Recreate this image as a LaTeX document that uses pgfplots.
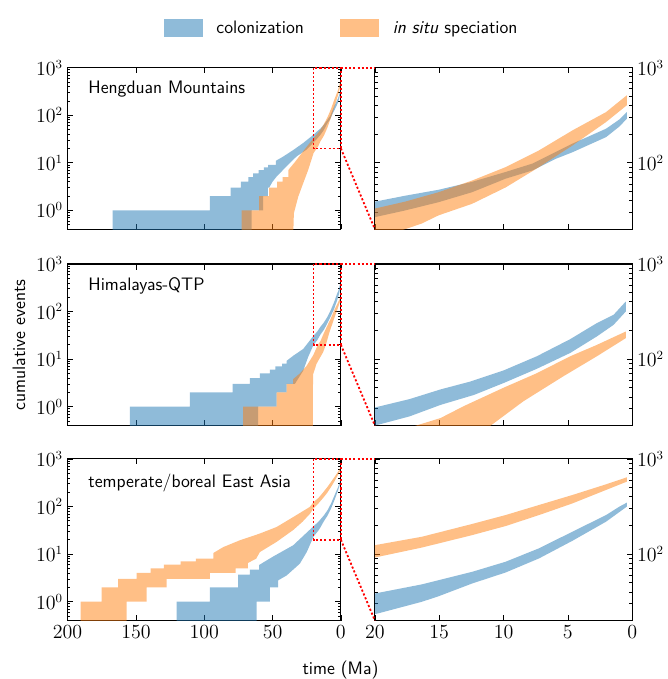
\documentclass[border=0pt]{standalone}
\usepackage{pgfplots}
\usepackage{pgfplotstable}
\pgfplotsset{compat=1.18}
\definecolor{tabblue}{RGB}{31,119,180}
\definecolor{taborange}{RGB}{255,127,14}

% each band is a closed outline: upper edge old->young, then lower edge young->old
\pgfplotstableread{
x y
167 0.1
167 1
95.9 1
95.9 2
80.7 2
80.7 3
73.2 3
73.2 4
67.8 4
67.8 5
64.2 5
64.2 6
60.2 6
60.2 7
56.3 7
56.3 8
53.2 8
53.2 9
47.6 9
47.6 11
42.2 13.5
34.9 18.5
27.6 26
20 39
17.66 45
15.05 52
12.45 63
9.84 80
7.76 98
5.94 130
4.64 159
2.03 228
1.0 285
0.42 341
0.42 290
1.0 240
2.03 186
4.64 129
5.94 110
7.76 83
9.84 68
12.45 49
15.05 38.5
17.66 31.5
20 26.8
25 19
32.4 13.6
39.8 8.4
47.1 5.1
50 4
52.5 3
53.5 3
53.5 2
57 2
57 1
65.4 1
65.4 0.1
}\HengBlue

\pgfplotstableread{
x y
72.7 0.1
72.7 1
59.8 1
59.8 2
52.5 2
52.5 3
46.6 3
46.6 4
42.7 4
42.7 5
38.5 5
38.5 7
33.7 10.3
27.6 17.4
20 33
17.66 39
15.05 49
12.45 65
9.84 90
7.24 135
4.64 219
2.03 341
0.42 512
0.42 402
2.03 268
4.64 152
7.24 90
9.84 55
12.45 37
15.05 28
16.35 23
17.66 20
20 16
23.9 7.1
27.6 3.7
31.2 1.94
34.4 0.87
35.4 0.1
}\HengOrange

\pgfplotstableread{
x y
154.4 0.1
154.4 1
110.5 1
110.5 2
79.3 2
79.3 3
66.6 3
66.6 4
59.3 4
59.3 5
52 5
52 6
48 6
48 7
43 7
43 8
39.7 8
39.7 9.2
34.8 11.8
27.6 16.3
20 31
17.3 38
14.9 48
12.6 58
10 76
7.42 107
4.82 162
2.75 239
1.45 292
0.5 403
0.5 316
1.45 229
2.75 173
4.82 116
7.42 79
10 56
12.3 42
14.9 33
17.3 25
20 20
24 11
27.6 5.7
33.7 3
39.7 3
39.7 2
47.1 2
47.1 1
60.5 1
60.5 0.1
}\QTPBlue

\pgfplotstableread{
x y
71.5 0.1
71.5 1
47.1 1
47.1 2
39.7 2
39.7 3
34.9 3
34.9 3.8
30 5
25.1 7.2
20.3 12
16.8 20
14.9 24
13.1 32
10 50
7.42 71
4.82 107
2.75 141
0.5 195
0.5 166
2.75 107
5.35 66
8.46 36
11 20
13 14
17.8 8
20.3 4.8
20.5 2
20.6 0.1
}\QTPOrange

\pgfplotstableread{
x y
120.2 0.1
120.2 1
95.9 1
95.9 2
75.2 2
75.2 3.7
66.6 3.7
66.6 4.7
59.8 4.7
59.8 5.9
49.5 8.9
34.9 15.3
20 38.5
16.35 48
12.45 65
9.84 83
7.24 115
4.64 172
2.03 257
1.0 315
0.42 347
0.42 315
2.03 219
4.64 138
7.24 90
9.84 64
12.45 49
15.05 36
16.35 31.5
20 23.3
25 11
30 6.3
39.7 3.55
45.9 2.8
45.9 2
52 2
52 1
61.7 1
61.7 0.1
}\EABlue

\pgfplotstableread{
x y
190.5 0.1
190.5 1
175.1 1
175.1 2
163 2
163 3
149.5 3
149.5 4
139.3 4
139.3 5
129.5 5
129.5 6
117.3 6
117.3 7
106.1 7
106.1 8
93.4 8
93.4 10.5
86.1 14
73.9 19.5
59.3 27
47.1 37
34.9 60
22.7 98
20 124
16.35 152
12.45 207
9.84 257
7.24 328
4.64 418
2.03 541
0.42 641
0.42 577
2.03 472
4.64 341
7.24 257
9.84 197
12.45 158
16.35 117
20 92
22.7 70
28 48
34.9 32
47.1 18
59.3 11
62 8
68 6.5
68 5
77 5
77 4
95.9 4
95.9 3
127.5 3
127.5 2
142.2 2
142.2 1
156.8 1
156.8 0.1
}\EAOrange

\newcommand{\lab}{\sffamily\fontsize{13}{15}\selectfont}
\pgfplotsset{
  mypanel/.style={scale only axis, height=116.4pt, x dir=reverse,
    tick align=inside, major tick length=4pt, minor tick length=2pt,
    every tick/.style={black, line width=0.5pt},
    axis line style={line width=0.8pt},
    tick label style={font=\fontsize{13.5}{15}\selectfont},
    anchor=north west},
  myleft/.style={mypanel, width=196.8pt, xmin=0, xmax=200, ymin=0.4, ymax=1000,
    xtick={0,50,100,150,200}, ytick={1,10,100,1000},
    minor ytick={0.4,0.5,0.6,0.7,0.8,0.9,2,3,4,5,6,7,8,9,20,30,40,50,60,70,80,90,200,300,400,500,600,700,800,900}},
  myright/.style={mypanel, width=185.3pt, xmin=0, xmax=20, ymin=20, ymax=1000,
    xtick={0,5,10,15,20}, ytick={100,1000}, yticklabel pos=right,
    minor ytick={20,30,40,50,60,70,80,90,200,300,400,500,600,700,800,900}},
}
\tikzset{
  bandblue/.style={fill=tabblue, fill opacity=0.5, draw=none},
  bandorange/.style={fill=taborange, fill opacity=0.5, draw=none},
  reddot/.style={color=red, line width=1.3pt, dash pattern=on 1.5pt off 1.5pt},
}

\begin{document}
\begin{tikzpicture}
\useasboundingbox (0pt,0pt) rectangle (481pt,-489pt);

% ---- row 1: Hengduan Mountains
\begin{semilogyaxis}[myleft, at={(48.7pt,-48.7pt)}, xticklabels={},
  legend columns=2,
  legend style={draw=none, fill=none, at={(1.004,1.244)}, anchor=center,
    font=\lab,
    /tikz/every odd column/.append style={column sep=8pt},
    /tikz/every even column/.append style={column sep=24pt}},
  legend image code/.code={\fill[#1] (0pt,-6.5pt) rectangle (28pt,6.5pt);}]
\addlegendimage{bandblue}
\addlegendentry{colonization}
\addlegendimage{bandorange}
\addlegendentry{\textit{in situ} speciation}
\addplot[bandblue, forget plot] table {\HengBlue} -- cycle;
\addplot[bandorange, forget plot] table {\HengOrange} -- cycle;
\node[anchor=west, font=\lab] at (rel axis cs:0.058,0.865) {Hengduan Mountains};
\coordinate (a1) at (axis cs:20,20);
\coordinate (d1) at (axis cs:20,1000);
\coordinate (b1) at (axis cs:0,1000);
\coordinate (c1) at (axis cs:0,20);
\end{semilogyaxis}
\begin{semilogyaxis}[myright, at={(270pt,-48.7pt)}, xticklabels={}, name=R1]
\addplot[bandblue] table {\HengBlue} -- cycle;
\addplot[bandorange] table {\HengOrange} -- cycle;
\end{semilogyaxis}
\draw[reddot] (d1) -- (a1) -- (c1) -- (b1) -- (d1);
\draw[reddot] (b1) -- (R1.north west);
\draw[reddot] (c1) -- (R1.south west);

% ---- row 2: Himalayas-QTP
\begin{semilogyaxis}[myleft, at={(48.7pt,-190.1pt)}, xticklabels={}]
\addplot[bandblue] table {\QTPBlue} -- cycle;
\addplot[bandorange] table {\QTPOrange} -- cycle;
\node[anchor=west, font=\lab] at (rel axis cs:0.058,0.865) {Himalayas-QTP};
\coordinate (a2) at (axis cs:20,20);
\coordinate (d2) at (axis cs:20,1000);
\coordinate (b2) at (axis cs:0,1000);
\coordinate (c2) at (axis cs:0,20);
\end{semilogyaxis}
\begin{semilogyaxis}[myright, at={(270pt,-190.1pt)}, xticklabels={}, name=R2]
\addplot[bandblue] table {\QTPBlue} -- cycle;
\addplot[bandorange] table {\QTPOrange} -- cycle;
\end{semilogyaxis}
\draw[reddot] (d2) -- (a2) -- (c2) -- (b2) -- (d2);
\draw[reddot] (b2) -- (R2.north west);
\draw[reddot] (c2) -- (R2.south west);

% ---- row 3: temperate/boreal East Asia
\begin{semilogyaxis}[myleft, at={(48.7pt,-330.5pt)}]
\addplot[bandblue] table {\EABlue} -- cycle;
\addplot[bandorange] table {\EAOrange} -- cycle;
\node[anchor=west, font=\lab] at (rel axis cs:0.058,0.85) {temperate/boreal East Asia};
\coordinate (a3) at (axis cs:20,20);
\coordinate (d3) at (axis cs:20,1000);
\coordinate (b3) at (axis cs:0,1000);
\coordinate (c3) at (axis cs:0,20);
\end{semilogyaxis}
\begin{semilogyaxis}[myright, at={(270pt,-330.5pt)}, name=R3]
\addplot[bandblue] table {\EABlue} -- cycle;
\addplot[bandorange] table {\EAOrange} -- cycle;
\end{semilogyaxis}
\draw[reddot] (d3) -- (a3) -- (c3) -- (b3) -- (d3);
\draw[reddot] (b3) -- (R3.north west);
\draw[reddot] (c3) -- (R3.south west);

\node[font=\lab] at (245.2pt,-482.4pt) {time (Ma)};
\node[font=\lab, rotate=90] at (13.7pt,-248.4pt) {cumulative events};
\end{tikzpicture}
\end{document}
